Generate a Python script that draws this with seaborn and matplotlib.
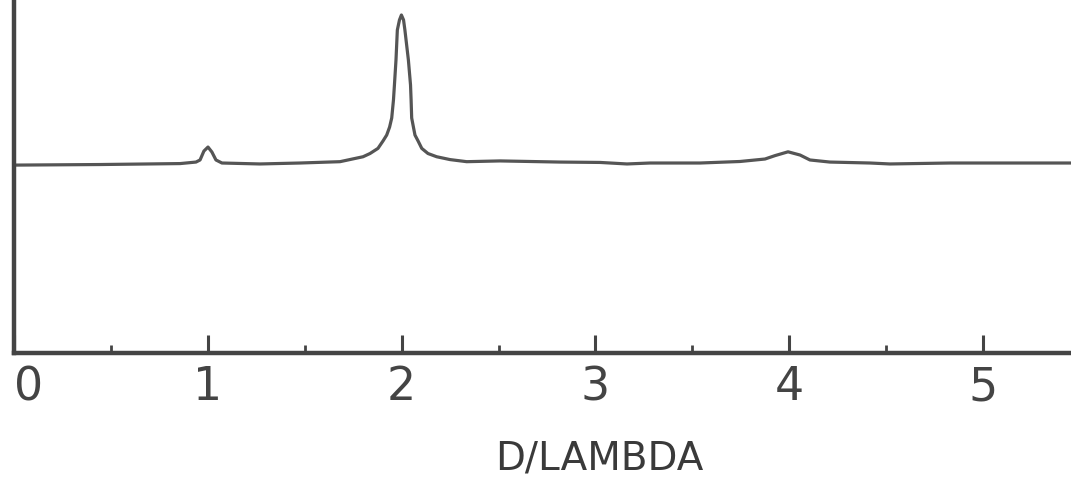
import matplotlib
matplotlib.use("Agg")
import matplotlib.pyplot as plt
import seaborn as sns
import pandas as pd

# Scan of intensity against D/LAMBDA (baseline normalised to 1.0)
d_lambda = [0.000, 0.444, 0.857, 0.939, 0.960, 0.980, 1.001, 1.021, 1.042, 1.073,
            1.269, 1.476, 1.682, 1.801, 1.837, 1.878, 1.904, 1.923, 1.938, 1.949,
            1.958, 1.963, 1.971, 1.978, 1.989, 1.999, 2.010, 2.017, 2.035, 2.046,
            2.049, 2.052, 2.061, 2.069, 2.085, 2.104, 2.136, 2.181, 2.250, 2.336,
            2.508, 2.817, 3.024, 3.163, 3.282, 3.540, 3.746, 3.875, 3.927, 3.994,
            4.056, 4.107, 4.210, 4.417, 4.520, 4.830, 5.088, 5.454]
intensity = [0.989, 0.992, 0.997, 1.005, 1.016, 1.063, 1.084, 1.058, 1.016, 1.000,
             0.995, 1.000, 1.007, 1.033, 1.050, 1.077, 1.116, 1.147, 1.189, 1.237,
             1.332, 1.411, 1.542, 1.700, 1.753, 1.779, 1.753, 1.700, 1.542, 1.411,
             1.332, 1.237, 1.189, 1.147, 1.116, 1.077, 1.050, 1.033, 1.018, 1.007,
             1.011, 1.005, 1.003, 0.995, 1.000, 1.000, 1.008, 1.021, 1.039, 1.059,
             1.042, 1.016, 1.005, 1.000, 0.995, 1.000, 1.000, 1.000]

major_ticks = [0, 1, 2, 3, 4, 5]
major_labels = ["0", "1", "2", "3", "4", "5"]
minor_ticks = [0.5, 1.5, 2.5, 3.5, 4.5]
x_label = "D/LAMBDA"

sns.set_style("white")
plt.rcParams["font.family"] = ["DejaVu Sans"]

fig = plt.figure(figsize=(10.71, 4.84), dpi=100)
ax = fig.add_axes([14 / 1071, 131 / 484, 1 - 14 / 1071, 353 / 484])

df = pd.DataFrame({"d": d_lambda, "i": intensity})
sns.lineplot(data=df, x="d", y="i", sort=False, estimator=None,
             color="#555555", linewidth=2.3, ax=ax)

ax.set_xlim(0, 5.454)
ax.set_ylim(0, 1.858)

for side in ("top", "right"):
    ax.spines[side].set_visible(False)
for side in ("left", "bottom"):
    ax.spines[side].set_color("#444444")
    ax.spines[side].set_linewidth(3.2)

ax.set_yticks([])
ax.set_xticks(major_ticks)
ax.set_xticklabels(major_labels)
ax.set_xticks(minor_ticks, minor=True)
ax.tick_params(axis="x", which="both", bottom=True)
ax.tick_params(axis="x", which="major", direction="in", length=13, width=2.2,
               color="#444444", labelsize=33, labelcolor="#444444", pad=9)
ax.tick_params(axis="x", which="minor", direction="in", length=6, width=2.0,
               color="#444444")
ax.get_xticklabels()[0].set_horizontalalignment("left")
ax.set_xlabel(x_label, fontsize=28, color="#3a3a3a", labelpad=20)
ax.xaxis.set_label_coords(0.554, -0.245)
ax.set_ylabel("")

fig.savefig("out.png", dpi=100)
